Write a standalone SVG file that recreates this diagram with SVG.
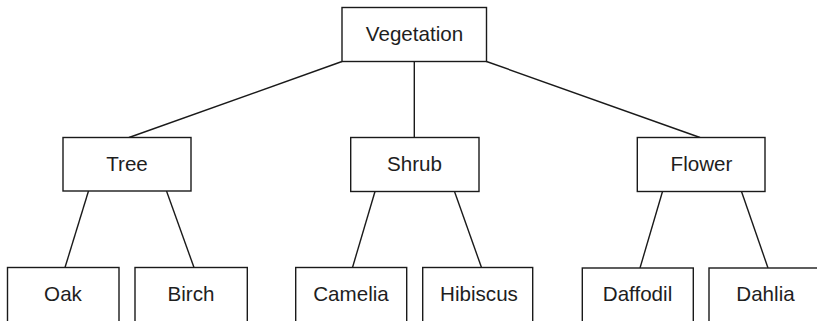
<svg xmlns="http://www.w3.org/2000/svg" width="817" height="321" viewBox="0 0 817 321">
  <style>
    .box { fill: #ffffff; stroke: #1a1a1a; stroke-width: 1.4; }
    .label { font-family: "Liberation Sans", Arial, sans-serif; font-size: 20.6px; fill: #1e1e1e; text-anchor: middle; }
    .edge { stroke: #1a1a1a; stroke-width: 1.4; fill: none; }
  </style>
  <rect width="817" height="321" fill="#ffffff"/>

  <!-- connectors -->
  <g id="connectors">
    <line class="edge" x1="342" y1="61.5" x2="129" y2="137.5"/>
    <line class="edge" x1="414.3" y1="61.5" x2="414.3" y2="137.5"/>
    <line class="edge" x1="486.5" y1="61.5" x2="700" y2="137.5"/>
    <line class="edge" x1="88.5" y1="191" x2="65" y2="267.5"/>
    <line class="edge" x1="166.5" y1="191" x2="194" y2="267.5"/>
    <line class="edge" x1="375" y1="191.5" x2="352.5" y2="267.5"/>
    <line class="edge" x1="454.5" y1="191.5" x2="481.5" y2="267.5"/>
    <line class="edge" x1="662.5" y1="191.5" x2="640" y2="268"/>
    <line class="edge" x1="741.5" y1="191.5" x2="768" y2="268"/>
  </g>

  <!-- root -->
  <g id="vegetation">
    <rect class="box" x="342" y="7.5" width="144.5" height="54"/>
    <text class="label" x="414.5" y="40.5">Vegetation</text>
  </g>

  <!-- middle level -->
  <g id="tree">
    <rect class="box" x="63" y="137.5" width="128" height="53.5"/>
    <text class="label" x="127" y="170.5">Tree</text>
  </g>
  <g id="shrub">
    <rect class="box" x="350.7" y="137.5" width="128.3" height="54"/>
    <text class="label" x="414.5" y="171">Shrub</text>
  </g>
  <g id="flower">
    <rect class="box" x="637.3" y="137.5" width="127.7" height="54"/>
    <text class="label" x="701.5" y="170.5">Flower</text>
  </g>

  <!-- leaves (run past the lower edge) -->
  <g id="oak">
    <rect class="box" x="7.5" y="267.5" width="111.5" height="62"/>
    <text class="label" x="63" y="300.5">Oak</text>
  </g>
  <g id="birch">
    <rect class="box" x="135" y="267.5" width="112.3" height="62"/>
    <text class="label" x="191" y="300.5">Birch</text>
  </g>
  <g id="camelia">
    <rect class="box" x="295.7" y="267.5" width="111" height="62"/>
    <text class="label" x="351" y="300.5">Camelia</text>
  </g>
  <g id="hibiscus">
    <rect class="box" x="422.7" y="267.5" width="110" height="62"/>
    <text class="label" x="479" y="300.5">Hibiscus</text>
  </g>
  <g id="daffodil">
    <rect class="box" x="582.3" y="268" width="111" height="62"/>
    <text class="label" x="637.5" y="301">Daffodil</text>
  </g>
  <g id="dahlia">
    <rect class="box" x="709" y="268" width="112" height="62"/>
    <text class="label" x="765.5" y="301">Dahlia</text>
  </g>
</svg>
